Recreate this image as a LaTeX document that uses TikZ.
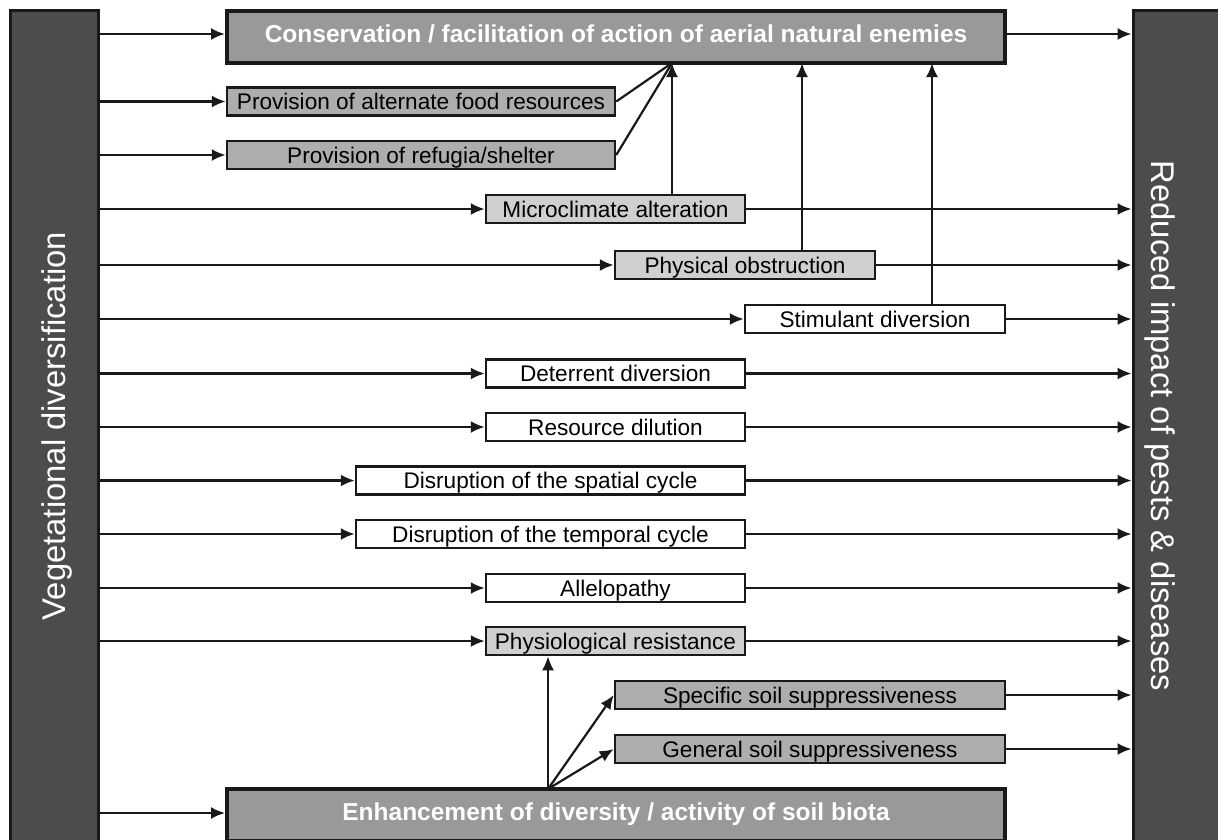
\documentclass[tikz,border=0pt]{standalone}
\usepackage{fontspec}
\setmainfont{Liberation Sans}
\usetikzlibrary{arrows.meta}
\begin{document}
\begin{tikzpicture}[x=1pt,y=-1pt,
  txt/.style={font=\fontsize{22.6}{26}\selectfont,text height=16.3pt,text depth=0.3pt},
  bar/.style={draw=black!90,line width=3pt,fill=black!70,inner sep=0pt},
  bigbox/.style={draw=black!90,line width=4pt,fill=black!40,inner sep=0pt,minimum height=52pt,text=white,font=\fontsize{24.5}{28}\selectfont\bfseries,text height=17.6pt,text depth=6.5pt},
  midbox/.style={txt,draw=black!90,line width=2.5pt,fill=black!32,inner sep=0pt,minimum height=28pt},
  ltbox/.style={txt,draw=black!90,line width=2.5pt,fill=black!19,inner sep=0pt,minimum height=28pt},
  whbox/.style={txt,draw=black!90,line width=2.5pt,fill=white,inner sep=0pt,minimum height=28pt},
  arr/.style={line width=2.2pt,draw=black!90,-{Latex[length=14pt,width=12pt]}},
  ln/.style={line width=2.2pt,draw=black!90}]
\useasboundingbox (0,0) rectangle (1218,839);
\clip (0,0) rectangle (1218,839);
% side bars
\node[bar,minimum width=88pt,minimum height=840pt] (vd) at (54,430) {};
\node[rotate=90,text=white,font=\fontsize{32.8}{36}\selectfont] (vdt) at (57,426) {Vegetational diversification};
\node[bar,minimum width=88pt,minimum height=840pt] (rp) at (1177,430) {};
\node[rotate=-90,text=white,font=\fontsize{32.8}{36}\selectfont] (rpt) at (1160,426) {Reduced impact of pests \& diseases};
% boxes
\node[bigbox,minimum width=778pt] (cons) at (616,37) {Conservation / facilitation of action of aerial natural enemies};
\node[bigbox,minimum width=778pt] (soil) at (616,815) {Enhancement of diversity / activity of soil biota};
\node[midbox,minimum width=388pt] (alt) at (421,101.5) {Provision of alternate food resources};
\node[midbox,minimum width=388pt] (ref) at (421,155) {Provision of refugia/shelter};
\node[ltbox,minimum width=259pt] (mic) at (615.5,209) {Microclimate alteration};
\node[ltbox,minimum width=260pt] (phy) at (745,265) {Physical obstruction};
\node[whbox,minimum width=260pt] (sti) at (875,319) {Stimulant diversion};
\node[whbox,minimum width=259pt] (det) at (615.5,373.5) {Deterrent diversion};
\node[whbox,minimum width=259pt] (res) at (615.5,427) {Resource dilution};
\node[whbox,minimum width=389pt] (spa) at (550.5,480.5) {Disruption of the spatial cycle};
\node[whbox,minimum width=389pt] (tem) at (550.5,534) {Disruption of the temporal cycle};
\node[whbox,minimum width=259pt] (all) at (615.5,588) {Allelopathy};
\node[ltbox,minimum width=259pt] (phr) at (615.5,641) {Physiological resistance};
\node[midbox,minimum width=390pt] (ssp) at (810,695) {Specific soil suppressiveness};
\node[midbox,minimum width=390pt] (gsp) at (810,749) {General soil suppressiveness};
\coordinate (hub) at (672,63);
\coordinate (bhub) at (548,789);
% arrows from left bar
\foreach \n/\yy in {cons/34,alt/101.5,ref/155,mic/209,phy/265,sti/319,det/373.5,res/427,spa/480.5,tem/534,all/588,phr/641,soil/813}
  \draw[arr] (vd.east |- 0,\yy) -- (\n.west |- 0,\yy);
% arrows to right bar
\foreach \n/\yy in {cons/34,mic/209,phy/265,sti/319,det/373.5,res/427,spa/480.5,tem/534,all/588,phr/641,ssp/695,gsp/749}
  \draw[arr] (\n.east |- 0,\yy) -- (rp.west |- 0,\yy);
% convergence to conservation
\draw[ln] (alt.east) -- (hub);
\draw[ln] (ref.east) -- (hub);
\draw[arr] (mic.north -| hub) -- (hub);
\draw[arr] (phy.north -| 802,0) -- (802,63);
\draw[arr] (sti.north -| 932,0) -- (932,63);
% soil biota
\draw[arr] (bhub) -- (phr.south -| bhub);
\draw[arr] (bhub) -- (ssp.west);
\draw[arr] (bhub) -- (gsp.west);
\end{tikzpicture}
\end{document}
